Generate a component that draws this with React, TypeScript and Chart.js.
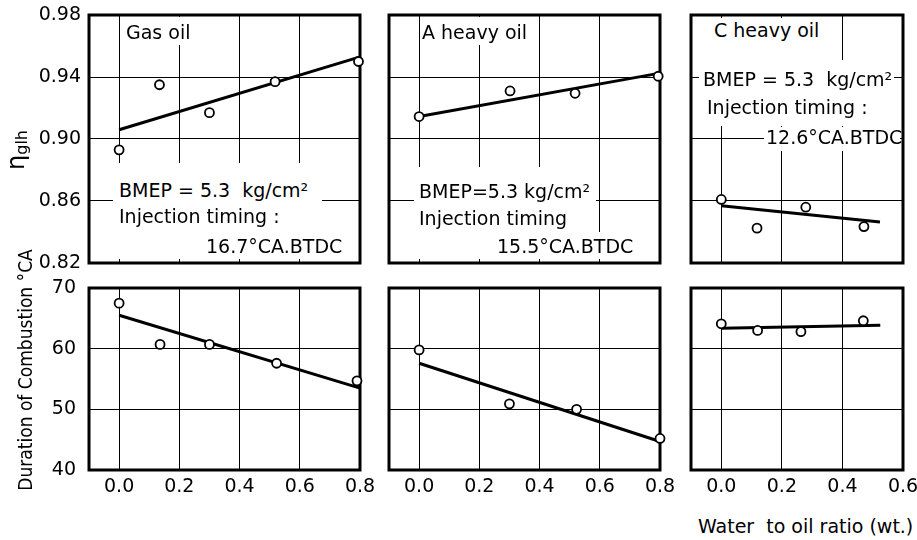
import React, { useEffect, useRef } from "react";
import { Chart, registerables } from "chart.js";

Chart.register(...registerables);

// ---------- data ----------
const xTicksWide = [0, 0.2, 0.4, 0.6, 0.8];
const xTicksNarrow = [0, 0.2, 0.4, 0.6];
const etaTicks = [0.82, 0.86, 0.9, 0.94, 0.98];
const durationTicks = [40, 50, 60, 70];

const gasEtaX = [0, 0.134, 0.3, 0.518, 0.795];
const gasEtaY = [0.893, 0.935, 0.917, 0.937, 0.95];
const gasEtaFitX = [0, 0.8];
const gasEtaFitY = [0.906, 0.953];

const aEtaX = [0, 0.302, 0.518, 0.794];
const aEtaY = [0.9145, 0.931, 0.9295, 0.9405];
const aEtaFitX = [0, 0.8];
const aEtaFitY = [0.9145, 0.9425];

const cEtaX = [0, 0.118, 0.279, 0.471];
const cEtaY = [0.861, 0.8425, 0.856, 0.8435];
const cEtaFitX = [0, 0.524];
const cEtaFitY = [0.857, 0.8465];

const gasDurX = [0, 0.136, 0.3, 0.523, 0.79];
const gasDurY = [67.5, 60.7, 60.7, 57.6, 54.7];
const gasDurFitX = [0, 0.8];
const gasDurFitY = [65.5, 53.5];

const aDurX = [0, 0.3, 0.523, 0.8];
const aDurY = [59.8, 50.9, 50.0, 45.2];
const aDurFitX = [0, 0.8];
const aDurFitY = [57.6, 44.7];

const cDurX = [0, 0.12, 0.263, 0.469];
const cDurY = [64.1, 63.0, 62.8, 64.6];
const cDurFitX = [0, 0.525];
const cDurFitY = [63.35, 63.85];

const FONT = "'DejaVu Sans', sans-serif";

const borderPlugin = {
  id: "panelBorder",
  beforeDatasetsDraw(chart: any) {
    const { ctx, chartArea } = chart;
    ctx.save();
    ctx.strokeStyle = "#000";
    ctx.lineWidth = 3;
    ctx.strokeRect(chartArea.left, chartArea.top, chartArea.right - chartArea.left, chartArea.bottom - chartArea.top);
    ctx.restore();
  },
};

type PanelProps = {
  left: number;
  top: number;
  width: number;
  height: number;
  xMax: number;
  xTicks: number[];
  yMin: number;
  yMax: number;
  yTicks: number[];
  yDecimals: number;
  showX: boolean;
  showY: boolean;
  yPad: number;
  px: number[];
  py: number[];
  fx: number[];
  fy: number[];
};

const zeroPadding = (s: any) => {
  s.paddingLeft = 0;
  s.paddingRight = 0;
  s.paddingTop = 0;
  s.paddingBottom = 0;
};

function Panel(p: PanelProps) {
  const ref = useRef<HTMLCanvasElement>(null);
  const ls = p.showY ? 70 : 8;
  const rs = 20;
  const ts = 14;
  const bs = p.showX ? 34 : 14;
  const cw = p.width + ls + rs;
  const ch = p.height + ts + bs;

  useEffect(() => {
    const chart = new Chart(ref.current as HTMLCanvasElement, {
      type: "scatter",
      data: {
        datasets: [
          {
            data: p.px.map((x, i) => ({ x, y: p.py[i] })),
            pointRadius: 4.5,
            pointBorderWidth: 1.8,
            pointBackgroundColor: "#fff",
            pointBorderColor: "#000",
            showLine: false,
            clip: false,
          } as any,
          {
            data: p.fx.map((x, i) => ({ x, y: p.fy[i] })),
            showLine: true,
            borderColor: "#000",
            borderWidth: 3,
            pointRadius: 0,
            clip: false,
          } as any,
        ],
      },
      options: {
        animation: false,
        responsive: false,
        maintainAspectRatio: false,
        events: [],
        layout: { padding: { top: ts, right: rs, left: 0, bottom: 0 }, autoPadding: false } as any,
        plugins: { legend: { display: false }, tooltip: { enabled: false } },
        scales: {
          x: {
            type: "linear",
            min: -0.1,
            max: p.xMax,
            afterBuildTicks: (s: any) => {
              s.ticks = p.xTicks.map((v) => ({ value: v }));
            },
            afterFit: (s: any) => {
              s.height = bs;
              zeroPadding(s);
            },
            ticks: {
              display: p.showX,
              padding: 6,
              color: "#000",
              font: { family: FONT, size: 19 },
              callback: (v: any) => Number(v).toFixed(1),
            },
            grid: { color: "#000", lineWidth: 1, drawTicks: false },
            border: { display: false },
          },
          y: {
            type: "linear",
            min: p.yMin,
            max: p.yMax,
            afterBuildTicks: (s: any) => {
              s.ticks = p.yTicks.map((v) => ({ value: v }));
            },
            afterFit: (s: any) => {
              s.width = ls;
              zeroPadding(s);
            },
            ticks: {
              display: p.showY,
              padding: p.yPad,
              color: "#000",
              font: { family: FONT, size: 19 },
              callback: (v: any) => Number(v).toFixed(p.yDecimals),
            },
            grid: { color: "#000", lineWidth: 1, drawTicks: false },
            border: { display: false },
          },
        },
      },
      plugins: [borderPlugin],
    } as any);
    return () => chart.destroy();
  }, []);

  return (
    <canvas
      ref={ref}
      width={cw}
      height={ch}
      style={{ position: "absolute", left: p.left - ls, top: p.top - ts, width: cw, height: ch }}
    />
  );
}

const txt = (left: number, baseline: number, s: string, size = 19) => (
  <div
    key={s + left + baseline}
    style={{
      position: "absolute",
      left,
      top: baseline - 0.846 * size,
      fontFamily: FONT,
      fontSize: size,
      lineHeight: size + "px",
      whiteSpace: "pre",
      color: "#000",
    }}
  >
    {s}
  </div>
);

const box = (x1: number, y1: number, x2: number, y2: number) => (
  <div
    key={"b" + x1 + "_" + y1}
    style={{ position: "absolute", left: x1, top: y1, width: x2 - x1, height: y2 - y1, background: "#fff" }}
  />
);

export default function App() {
  const colL = [89, 389, 691];
  const colW = [271, 271, 212];
  const rowT = [15, 288];
  const rowH = [248, 182];
  const etaCommon = { yMin: 0.82, yMax: 0.98, yTicks: etaTicks, yDecimals: 2, showX: false, yPad: 8 };
  const durCommon = { yMin: 40, yMax: 70, yTicks: durationTicks, yDecimals: 0, showX: true, yPad: 13 };

  return (
    <div style={{ position: "absolute", left: 0, top: 0, width: 917, height: 540, background: "#fff", overflow: "hidden" }}>
      <Panel left={colL[0]} top={rowT[0]} width={colW[0]} height={rowH[0]} xMax={0.8} xTicks={xTicksWide} showY={true} px={gasEtaX} py={gasEtaY} fx={gasEtaFitX} fy={gasEtaFitY} {...etaCommon} />
      <Panel left={colL[1]} top={rowT[0]} width={colW[1]} height={rowH[0]} xMax={0.8} xTicks={xTicksWide} showY={false} px={aEtaX} py={aEtaY} fx={aEtaFitX} fy={aEtaFitY} {...etaCommon} />
      <Panel left={colL[2]} top={rowT[0]} width={colW[2]} height={rowH[0]} xMax={0.6} xTicks={xTicksNarrow} showY={false} px={cEtaX} py={cEtaY} fx={cEtaFitX} fy={cEtaFitY} {...etaCommon} />
      <Panel left={colL[0]} top={rowT[1]} width={colW[0]} height={rowH[1]} xMax={0.8} xTicks={xTicksWide} showY={true} px={gasDurX} py={gasDurY} fx={gasDurFitX} fy={gasDurFitY} {...durCommon} />
      <Panel left={colL[1]} top={rowT[1]} width={colW[1]} height={rowH[1]} xMax={0.8} xTicks={xTicksWide} showY={false} px={aDurX} py={aDurY} fx={aDurFitX} fy={aDurFitY} {...durCommon} />
      <Panel left={colL[2]} top={rowT[1]} width={colW[2]} height={rowH[1]} xMax={0.6} xTicks={xTicksNarrow} showY={false} px={cDurX} py={cDurY} fx={cDurFitX} fy={cDurFitY} {...durCommon} />

      {/* white patches where the original drawing interrupts the grid */}
      {box(122, 17, 197, 45)}
      {box(113, 163, 322, 259)}
      {box(420, 17, 535, 45)}
      {box(414, 167, 596, 259)}
      {box(494, 232, 634, 259)}
      {box(699, 18, 832, 126)}
      {box(832, 60, 894, 126)}
      {box(764, 127, 900, 151)}

      {/* panel annotations */}
      {txt(126, 39, "Gas oil")}
      {txt(119, 197, "BMEP = 5.3  kg/cm²")}
      {txt(119, 223, "Injection timing :")}
      {txt(206, 253, "16.7°CA.BTDC")}

      {txt(422, 39, "A heavy oil")}
      {txt(419, 198, "BMEP=5.3 kg/cm²")}
      {txt(419, 225, "Injection timing")}
      {txt(497, 253, "15.5°CA.BTDC")}

      {txt(714, 37, "C heavy oil")}
      {txt(703, 86, "BMEP = 5.3  kg/cm²")}
      {txt(707, 114, "Injection timing :")}
      {txt(766, 144, "12.6°CA.BTDC")}

      {/* axis titles */}
      <div
        style={{
          position: "absolute",
          left: 17,
          top: 150,
          transform: "translate(-50%, -50%) rotate(-90deg)",
          fontFamily: FONT,
          whiteSpace: "nowrap",
          color: "#000",
          lineHeight: 1,
        }}
      >
        <span style={{ fontSize: 24 }}>η</span>
        <span style={{ fontSize: 16, verticalAlign: "-3px" }}>glh</span>
      </div>
      <div
        style={{
          position: "absolute",
          left: 25,
          top: 370,
          transform: "translate(-50%, -50%) rotate(-90deg)",
          fontFamily: "'DejaVu Sans Condensed', 'Liberation Sans Narrow', 'DejaVu Sans', sans-serif",
          fontSize: 19,
          whiteSpace: "nowrap",
          color: "#000",
          lineHeight: 1,
        }}
      >
        Duration of Combustion °CA
      </div>
      <div
        style={{
          position: "absolute",
          left: 698,
          top: 533 - 0.846 * 19,
          fontFamily: FONT,
          fontSize: 19,
          lineHeight: "19px",
          whiteSpace: "pre",
          color: "#000",
        }}
      >
        Water  to oil ratio (wt.)
      </div>
    </div>
  );
}
